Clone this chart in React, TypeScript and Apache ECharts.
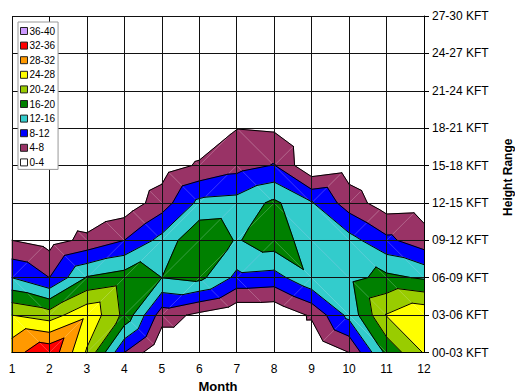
import React, { useEffect, useRef } from "react";
import * as echarts from "echarts";

// X categories (months) and Y tick labels (height ranges)
const months = [1, 2, 3, 4, 5, 6, 7, 8, 9, 10, 11, 12];
const heightLabels = [
  "00-03 KFT", "03-06 KFT", "06-09 KFT", "09-12 KFT", "12-15 KFT",
  "15-18 KFT", "18-21 KFT", "21-24 KFT", "24-27 KFT", "27-30 KFT",
];

// Legend bands (low -> high), their lower thresholds and colours
const bandNames = ["0-4", "4-8", "8-12", "12-16", "16-20", "20-24", "24-28", "28-32", "32-36", "36-40"];
const bandLevels = [0, 4, 8, 12, 16, 20, 24, 28, 32, 36];
const bandColors = [
  "#FFFFFF", "#993366", "#0000FF", "#33CCCC", "#008000",
  "#99CC00", "#FFFF00", "#FF9900", "#FF0000", "#CC99FF",
];

// Grid values, one array per height row, one value per month (1..12)
const row00_03 = [30.5, 35, 23.5, 8, 0, 0, 0, 0, 0, 4, 17, 24.3];
const row03_06 = [24, 22, 27.2, 19, 5.9, 3.0, 0.4, 0.4, 4.6, 13.2, 24.2, 27.3];
const row06_09 = [12, 8, 16.3, 18, 16, 17.1, 11, 10.4, 15.35, 15, 17, 15.5];
const row09_12 = [4, 2.4, 5, 8, 13.3, 19.5, 15.65, 18.3, 13.9, 13.5, 9, 5.5];
const row12_15 = [1.5, 1, 0, 1.4, 6, 13, 13.5, 16.8, 12.3, 6, 1.9, 2.2];
const row15_18 = [0.5, 0, 0, 0, 2, 4.5, 6.5, 8.2, 0.5, 2, 0, 0];
const row18_21 = [0, 0, 0, 0, 0, 1, 3.9, 3.5, 0, 0, 0, 0];
const row21_24 = [0, 0, 0, 0, 0, 0, 0.5, 0.5, 0, 0, 0, 0];
const row24_27 = [0, 0, 0, 0, 0, 0, 0, 0, 0, 0, 0, 0];
const row27_30 = [0, 0, 0, 0, 0, 0, 0, 0, 0, 0, 0, 0];

const rows = [row00_03, row03_06, row06_09, row09_12, row12_15, row15_18, row18_21, row21_24, row24_27, row27_30];

type V = [number, number, number];

// Each grid cell is split in two triangles along the diagonal whose corners sum higher
function buildCells(): { tris: V[][]; diags: number[][][] } {
  const tris: V[][] = [];
  const diags: number[][][] = [];
  for (let h = 0; h < rows.length - 1; h++) {
    for (let i = 0; i < months.length - 1; i++) {
      const bl: V = [months[i], h, rows[h][i]];
      const br: V = [months[i + 1], h, rows[h][i + 1]];
      const tr: V = [months[i + 1], h + 1, rows[h + 1][i + 1]];
      const tl: V = [months[i], h + 1, rows[h + 1][i]];
      if (bl[2] + tr[2] >= tl[2] + br[2]) {
        tris.push([bl, br, tr], [bl, tr, tl]);
        diags.push([[bl[0], bl[1]], [tr[0], tr[1]]]);
      } else {
        tris.push([bl, br, tl], [br, tr, tl]);
        diags.push([[tl[0], tl[1]], [br[0], br[1]]]);
      }
    }
  }
  return { tris, diags };
}

function clip(t: V[], L: number): number[][] {
  const out: number[][] = [];
  for (let k = 0; k < 3; k++) {
    const p = t[k];
    const q = t[(k + 1) % 3];
    const pin = p[2] >= L;
    const qin = q[2] >= L;
    if (pin) out.push([p[0], p[1]]);
    if (pin !== qin) {
      const f = (L - p[2]) / (q[2] - p[2]);
      out.push([p[0] + f * (q[0] - p[0]), p[1] + f * (q[1] - p[1])]);
    }
  }
  return out;
}

function isoSeg(t: V[], L: number): number[][] | null {
  const pts: number[][] = [];
  for (let k = 0; k < 3; k++) {
    const p = t[k];
    const q = t[(k + 1) % 3];
    if ((p[2] >= L) !== (q[2] >= L)) {
      const f = (L - p[2]) / (q[2] - p[2]);
      pts.push([p[0] + f * (q[0] - p[0]), p[1] + f * (q[1] - p[1])]);
    }
  }
  return pts.length === 2 ? pts : null;
}

const FONT = "'Liberation Sans', Arial, sans-serif";

export default function App() {
  const ref = useRef<HTMLDivElement>(null);
  useEffect(() => {
    if (!ref.current) return;
    const chart = echarts.init(ref.current, null, { renderer: "svg" });
    const { tris, diags } = buildCells();

    const bandSeries: any[] = bandNames.map((name, k) => {
      const polys: number[][][] = [];
      if (k > 0) {
        tris.forEach((t) => {
          const p = clip(t, bandLevels[k]);
          if (p.length >= 3) polys.push(p);
        });
      }
      const color = bandColors[k];
      return {
        type: "custom",
        name,
        silent: true,
        itemStyle: { color },
        data: polys.length ? [[1, 0]] : [],
        renderItem: (_params: any, api: any) => ({
          type: "group",
          children: polys.map((poly) => ({
            type: "polygon",
            shape: { points: poly.map((p) => api.coord(p)) },
            style: { fill: color, stroke: color, lineWidth: 0.8 },
          })),
        }),
      };
    });

    const segs: number[][][] = [];
    bandLevels.slice(1).forEach((L) => {
      tris.forEach((t) => {
        const s = isoSeg(t, L);
        if (s) segs.push(s);
      });
    });

    const toLine = (s: number[][], api: any, stroke: string, lineWidth: number) => {
      const p1 = api.coord(s[0]);
      const p2 = api.coord(s[1]);
      return {
        type: "line",
        shape: { x1: p1[0], y1: p1[1], x2: p2[0], y2: p2[1] },
        style: { stroke, lineWidth, lineCap: "round" },
      };
    };

    const diagSeries = {
      type: "custom",
      name: "diagonals",
      silent: true,
      data: [[1, 0]],
      renderItem: (_params: any, api: any) => ({
        type: "group",
        children: diags.map((s) => toLine(s, api, "rgba(255,255,255,0.22)", 1)),
      }),
    };

    const lineSeries = {
      type: "custom",
      name: "contours",
      silent: true,
      data: [[1, 0]],
      renderItem: (_params: any, api: any) => ({
        type: "group",
        children: segs.map((s) => toLine(s, api, "#000", 1)),
      }),
    };

    chart.setOption({
      animation: false,
      backgroundColor: "#fff",
      textStyle: { fontFamily: FONT },
      grid: { left: 12, right: 91, top: 16, bottom: 39.5, outerBoundsMode: "none", containLabel: false },
      legend: {
        orient: "vertical",
        left: 18,
        top: 22,
        z: 20,
        data: bandNames.slice().reverse(),
        icon: "rect",
        itemWidth: 7,
        itemHeight: 7,
        itemGap: 2.6,
        padding: [3, 3, 1, 2],
        backgroundColor: "#fff",
        borderColor: "#999",
        borderWidth: 1,
        selectedMode: false,
        itemStyle: { borderColor: "#222", borderWidth: 1 },
        textStyle: { fontSize: 10, color: "#000", lineHeight: 12, fontFamily: FONT, padding: [0, 0, 0, -3] },
      },
      xAxis: {
        type: "value",
        min: 1,
        max: 12,
        interval: 1,
        z: 10,
        axisLine: { show: true, lineStyle: { color: "#000", width: 1 } },
        axisTick: { show: false },
        axisLabel: { fontSize: 12, color: "#000", margin: 10, fontFamily: FONT },
        splitLine: { show: true, lineStyle: { color: "#111", width: 1 } },
        name: "Month",
        nameLocation: "middle",
        nameGap: 27,
        nameTextStyle: { fontWeight: "bold", fontSize: 13, color: "#000", fontFamily: FONT },
      },
      yAxis: {
        type: "value",
        position: "right",
        min: 0,
        max: 9,
        interval: 1,
        z: 10,
        axisLine: { show: true, lineStyle: { color: "#000", width: 1 } },
        axisTick: { show: true, length: 5, lineStyle: { color: "#000" } },
        axisLabel: {
          fontSize: 12,
          color: "#000",
          margin: 8,
          fontFamily: FONT,
          formatter: (v: number) => heightLabels[Math.round(v)] ?? "",
        },
        splitLine: { show: true, lineStyle: { color: "#111", width: 1 } },
        name: "Height Range",
        nameLocation: "middle",
        nameRotate: 90,
        nameGap: 78,
        nameTextStyle: {
          fontWeight: "bold",
          fontSize: 12,
          color: "#000",
          fontFamily: FONT,
          padding: [0, 0, 0, 14],
        },
      },
      series: [...bandSeries, diagSeries, lineSeries],
    });
    return () => chart.dispose();
  }, []);
  return (
    <div
      ref={ref}
      style={{ position: "fixed", left: 0, top: 0, width: 515, height: 392 }}
    />
  );
}
